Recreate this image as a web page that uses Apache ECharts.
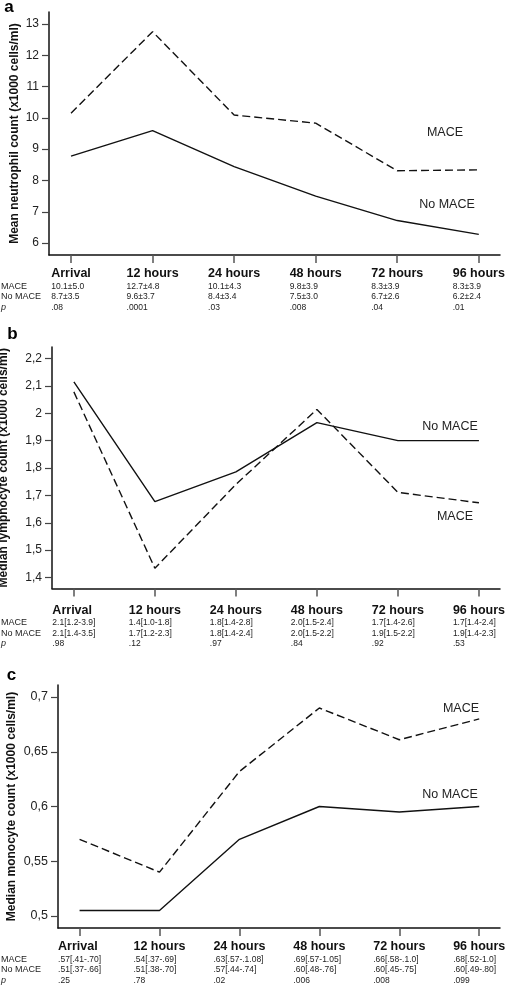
<!DOCTYPE html>
<html><head><meta charset="utf-8">
<script src="https://cdn.jsdelivr.net/npm/echarts@6/dist/echarts.min.js"></script>
<style>html,body{margin:0;padding:0;background:#fff}#c{width:505px;height:991px}</style>
</head><body><div id="c"></div>
<script>
// ---------- shared ----------
const timepoints = ['Arrival', '12 hours', '24 hours', '48 hours', '72 hours', '96 hours'];
const tickPositions = [0, 1, 2, 3, 4, 5];
const rowLabels = ['MACE', 'No MACE', 'p'];
const seriesNames = ['MACE', 'No MACE'];

// ---------- panel a: neutrophils ----------
const neutroMace = [10.15, 12.75, 10.09, 9.83, 8.31, 8.34];
const neutroNoMace = [8.78, 9.59, 8.44, 7.5, 6.72, 6.28];
const neutroTicks = [6, 7, 8, 9, 10, 11, 12, 13];
const neutroMaceTxt = ['10.1±5.0', '12.7±4.8', '10.1±4.3', '9.8±3.9', '8.3±3.9', '8.3±3.9'];
const neutroNoMaceTxt = ['8.7±3.5', '9.6±3.7', '8.4±3.4', '7.5±3.0', '6.7±2.6', '6.2±2.4'];
const neutroP = ['.08', '.0001', '.03', '.008', '.04', '.01'];

// ---------- panel b: lymphocytes ----------
const lymphoMace = [2.078, 1.434, 1.74, 2.014, 1.711, 1.673];
const lymphoNoMace = [2.115, 1.677, 1.786, 1.966, 1.9, 1.9];
const lymphoTicks = [1.4, 1.5, 1.6, 1.7, 1.8, 1.9, 2.0, 2.1, 2.2];
const lymphoMaceTxt = ['2.1[1.2-3.9]', '1.4[1.0-1.8]', '1.8[1.4-2.8]', '2.0[1.5-2.4]', '1.7[1.4-2.6]', '1.7[1.4-2.4]'];
const lymphoNoMaceTxt = ['2.1[1.4-3.5]', '1.7[1.2-2.3]', '1.8[1.4-2.4]', '2.0[1.5-2.2]', '1.9[1.5-2.2]', '1.9[1.4-2.3]'];
const lymphoP = ['.98', '.12', '.97', '.84', '.92', '.53'];

// ---------- panel c: monocytes ----------
const monoMace = [0.57, 0.54, 0.632, 0.69, 0.661, 0.68];
const monoNoMace = [0.505, 0.505, 0.57, 0.6, 0.595, 0.6];
const monoTicks = [0.5, 0.55, 0.6, 0.65, 0.7];
const monoMaceTxt = ['.57[.41-.70]', '.54[.37-.69]', '.63[.57-.1.08]', '.69[.57-1.05]', '.66[.58-.1.0]', '.68[.52-1.0]'];
const monoNoMaceTxt = ['.51[.37-.66]', '.51[.38-.70]', '.57[.44-.74]', '.60[.48-.76]', '.60[.45-.75]', '.60[.49-.80]'];
const monoP = ['.25', '.78', '.02', '.006', '.008', '.099'];

const FONT = '"Liberation Sans", Arial, Helvetica, sans-serif';
const INK = '#111';

const panels = [
  { letter: 'a', title: 'Mean neutrophil count (x1000 cells/ml)', mace: neutroMace, noMace: neutroNoMace,
    ticks: neutroTicks, min: 5.62, max: 13.38, rows: [neutroMaceTxt, neutroNoMaceTxt, neutroP],
    grid: { left: 49, top: 12, height: 243 }, nameGap: 28, xMargin: 12, labelSize: 12,
    letterPos: [9, 7], ann: [[445, 133], [447, 205]] },
  { letter: 'b', title: 'Median lymphocyte count (x1000 cells/ml)', mace: lymphoMace, noMace: lymphoNoMace,
    ticks: lymphoTicks, min: 1.36, max: 2.242, rows: [lymphoMaceTxt, lymphoNoMaceTxt, lymphoP],
    grid: { left: 52, top: 347, height: 241.5 }, nameGap: 42, xMargin: 15, labelSize: 12,
    letterPos: [12.5, 334], ann: [[455, 517], [450, 427]] },
  { letter: 'c', title: 'Median monocyte count (x1000 cells/ml)', mace: monoMace, noMace: monoNoMace,
    ticks: monoTicks, min: 0.489, max: 0.711, rows: [monoMaceTxt, monoNoMaceTxt, monoP],
    grid: { left: 58, top: 685, height: 243 }, nameGap: 40, xMargin: 12, labelSize: 12.5,
    letterPos: [11.5, 675], ann: [[461, 709], [450, 795]] }
];

const HEAD_LH = 14, ROW_LH = 10.5;
const grids = [], xAxes = [], yAxes = [], series = [], graphics = [];

panels.forEach((p, k) => {
  grids.push({ left: p.grid.left, right: 5, top: p.grid.top, height: p.grid.height,
    containLabel: false, outerBoundsMode: 'none' });
  xAxes.push({
    gridIndex: k, type: 'value', min: -0.27, max: 5.26,
    splitLine: { show: false },
    axisLine: { show: true, onZero: false, lineStyle: { color: INK, width: 1.5 } },
    axisTick: { show: true, customValues: tickPositions, length: 8, lineStyle: { color: '#555', width: 1.5 } },
    axisLabel: {
      customValues: tickPositions, margin: p.xMargin, hideOverlap: false,
      formatter: v => {
        const i = Math.round(v);
        return '{h|' + timepoints[i] + '}\n{v|' + p.rows[0][i] + '}\n{v|' + p.rows[1][i] + '}\n{v|' + p.rows[2][i] + '}';
      },
      rich: {
        h: { fontFamily: FONT, fontWeight: 'bold', fontSize: 12.5, color: INK, lineHeight: HEAD_LH, align: 'left' },
        v: { fontFamily: FONT, fontSize: 8.5, color: '#222', lineHeight: ROW_LH, align: 'left' }
      }
    }
  });
  yAxes.push({
    gridIndex: k, type: 'value', min: p.min, max: p.max,
    splitLine: { show: false },
    axisLine: { show: true, onZero: false, lineStyle: { color: INK, width: 1.5 } },
    axisTick: { show: true, customValues: p.ticks, length: 7, lineStyle: { color: '#444', width: 1.2 } },
    axisLabel: {
      customValues: p.ticks, margin: 10, fontFamily: FONT, fontSize: p.labelSize, color: '#222',
      formatter: v => String(+v.toFixed(2)).replace('.', ',')
    },
    name: p.title, nameLocation: 'middle', nameGap: p.nameGap, nameMoveOverlap: false,
    nameTextStyle: { fontFamily: FONT, fontWeight: 'bold', fontSize: 12, color: INK }
  });
  series.push({
    name: seriesNames[0], type: 'line', xAxisIndex: k, yAxisIndex: k, symbol: 'none', silent: true,
    data: p.mace.map((v, i) => [tickPositions[i], v]),
    lineStyle: { color: INK, width: 1.4, type: [8, 4] }
  });
  series.push({
    name: seriesNames[1], type: 'line', xAxisIndex: k, yAxisIndex: k, symbol: 'none', silent: true,
    data: p.noMace.map((v, i) => [tickPositions[i], v]),
    lineStyle: { color: INK, width: 1.4, type: 'solid' }
  });
  graphics.push({ type: 'text', x: p.letterPos[0], y: p.letterPos[1],
    style: { text: p.letter, fontFamily: FONT, fontWeight: 'bold', fontSize: 17, fill: '#000', align: 'center', verticalAlign: 'middle' } });
  seriesNames.forEach((n, j) => {
    graphics.push({ type: 'text', x: p.ann[j][0], y: p.ann[j][1],
      style: { text: n, fontFamily: FONT, fontSize: 12.5, fill: '#222', align: 'center', verticalAlign: 'middle' } });
  });
  const axisY = p.grid.top + p.grid.height;
  const top = axisY + p.xMargin + HEAD_LH;
  rowLabels.forEach((r, j) => {
    graphics.push({ type: 'text', x: 1, y: top + ROW_LH * (j + 0.5),
      style: { text: r, fontFamily: FONT, fontSize: 9, fontStyle: j === 2 ? 'italic' : 'normal', fill: '#222', align: 'left', verticalAlign: 'middle' } });
  });
});

const chart = echarts.init(document.getElementById('c'), null, { renderer: 'canvas' });
chart.setOption({
  animation: false,
  backgroundColor: '#fff',
  grid: grids, xAxis: xAxes, yAxis: yAxes, series: series, graphic: graphics
});
</script>
</body></html>
